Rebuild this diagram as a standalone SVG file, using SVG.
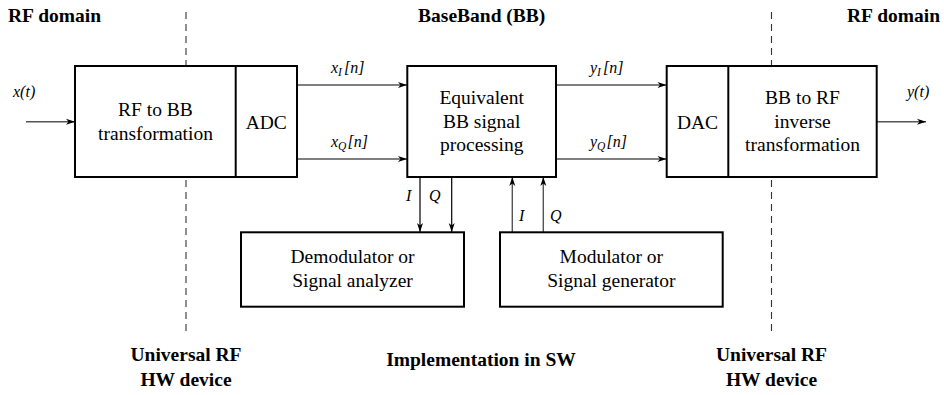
<svg xmlns="http://www.w3.org/2000/svg" width="944" height="395" viewBox="0 0 944 395">
<defs>
<marker id="ah" markerUnits="userSpaceOnUse" markerWidth="12" markerHeight="10" viewBox="-10 -5 12 10" refX="0" refY="0" orient="auto">
<path d="M0,0 L-9,-3 L-6.5,0 L-9,3 z" fill="#000"/>
</marker>
</defs>
<g id="dashes" stroke="#333" stroke-width="1.1" stroke-dasharray="7 5" fill="none">
<line x1="186" y1="12" x2="186" y2="332"/>
<line x1="771.5" y1="12" x2="771.5" y2="332"/>
</g>
<g id="connectors" stroke="#555" stroke-width="1.4" fill="none">
<line x1="26" y1="121.7" x2="75" y2="121.7" marker-end="url(#ah)"/>
<line x1="297" y1="85" x2="407" y2="85" marker-end="url(#ah)"/>
<line x1="297" y1="159" x2="407" y2="159" marker-end="url(#ah)"/>
<line x1="556" y1="85" x2="666.5" y2="85" marker-end="url(#ah)"/>
<line x1="556" y1="159" x2="666.5" y2="159" marker-end="url(#ah)"/>
<line x1="876.5" y1="121.7" x2="926" y2="121.7" marker-end="url(#ah)"/>
<line x1="420" y1="177" x2="420" y2="232" stroke="#000" stroke-width="1.2" marker-end="url(#ah)"/>
<line x1="451.7" y1="177" x2="451.7" y2="232" stroke="#000" stroke-width="1.2" marker-end="url(#ah)"/>
<line x1="512.3" y1="232" x2="512.3" y2="177" marker-end="url(#ah)"/>
<line x1="543.3" y1="232" x2="543.3" y2="177" marker-end="url(#ah)"/>
</g>
<g id="labels" fill="#000">
<text style="font-family:'Liberation Serif',serif !important;font-size:16px;font-style:italic" x="13" y="97">x(t)</text>
<text style="font-family:'Liberation Serif',serif !important;font-size:16px;font-style:italic" x="907" y="97">y(t)</text>
<text style="font-family:'Liberation Serif',serif !important;font-size:16px;font-style:italic" x="331" y="73">x<tspan font-size="11.5" dy="3">I</tspan><tspan dx="2" dy="-3">[n]</tspan></text>
<text style="font-family:'Liberation Serif',serif !important;font-size:16px;font-style:italic" x="331" y="147">x<tspan font-size="11.5" dy="3">Q</tspan><tspan dx="1" dy="-3">[n]</tspan></text>
<text style="font-family:'Liberation Serif',serif !important;font-size:16px;font-style:italic" x="590" y="73">y<tspan font-size="11.5" dy="3">I</tspan><tspan dx="2" dy="-3">[n]</tspan></text>
<text style="font-family:'Liberation Serif',serif !important;font-size:16px;font-style:italic" x="590" y="147">y<tspan font-size="11.5" dy="3">Q</tspan><tspan dx="1" dy="-3">[n]</tspan></text>
<text style="font-family:'Liberation Serif',serif !important;font-size:16px;font-style:italic" x="406" y="201">I</text>
<text style="font-family:'Liberation Serif',serif !important;font-size:16px;font-style:italic" x="429" y="201">Q</text>
<text style="font-family:'Liberation Serif',serif !important;font-size:16px;font-style:italic" x="519" y="221">I</text>
<text style="font-family:'Liberation Serif',serif !important;font-size:16px;font-style:italic" x="550" y="221">Q</text>
</g>
<g id="titles" fill="#000">
<text style="font-family:'Liberation Serif',serif !important;font-size:19.5px;font-weight:bold" x="8" y="22">RF domain</text>
<text style="font-family:'Liberation Serif',serif !important;font-size:19.5px;font-weight:bold" x="481.7" y="22" text-anchor="middle">BaseBand (BB)</text>
<text style="font-family:'Liberation Serif',serif !important;font-size:19.5px;font-weight:bold" x="940" y="22" text-anchor="end">RF domain</text>
<text style="font-family:'Liberation Serif',serif !important;font-size:19.5px;font-weight:bold" x="186" y="361" text-anchor="middle">Universal RF</text>
<text style="font-family:'Liberation Serif',serif !important;font-size:19.5px;font-weight:bold" x="186" y="386" text-anchor="middle">HW device</text>
<text style="font-family:'Liberation Serif',serif !important;font-size:19.5px;font-weight:bold" x="771.5" y="361" text-anchor="middle">Universal RF</text>
<text style="font-family:'Liberation Serif',serif !important;font-size:19.5px;font-weight:bold" x="771.5" y="386" text-anchor="middle">HW device</text>
<text style="font-family:'Liberation Serif',serif !important;font-size:19.5px;font-weight:bold" x="481" y="366" text-anchor="middle">Implementation in SW</text>
</g>
<g id="rf2bb" stroke="#000" stroke-width="2">
<rect x="75" y="66" width="222" height="111" fill="#fff"/>
<line x1="235.7" y1="66" x2="235.7" y2="177"/>
<text stroke="none" fill="#000" style="font-family:'Liberation Serif',serif !important;font-size:19.5px" text-anchor="middle" x="155.5" y="115.7">RF to BB</text>
<text stroke="none" fill="#000" style="font-family:'Liberation Serif',serif !important;font-size:19.5px" text-anchor="middle" x="155.5" y="140">transformation</text>
<text stroke="none" fill="#000" style="font-family:'Liberation Serif',serif !important;font-size:19.5px" text-anchor="middle" x="266.3" y="128.5">ADC</text>
</g>
<g id="eqproc" stroke="#000" stroke-width="2">
<rect x="407.3" y="66" width="148.7" height="111" fill="#fff"/>
<text stroke="none" fill="#000" style="font-family:'Liberation Serif',serif !important;font-size:19.5px" text-anchor="middle" x="481.7" y="104">Equivalent</text>
<text stroke="none" fill="#000" style="font-family:'Liberation Serif',serif !important;font-size:19.5px" text-anchor="middle" x="481.7" y="127.7">BB signal</text>
<text stroke="none" fill="#000" style="font-family:'Liberation Serif',serif !important;font-size:19.5px" text-anchor="middle" x="481.7" y="151">processing</text>
</g>
<g id="bb2rf" stroke="#000" stroke-width="2">
<rect x="666.7" y="66" width="210" height="111" fill="#fff"/>
<line x1="728.3" y1="66" x2="728.3" y2="177"/>
<text stroke="none" fill="#000" style="font-family:'Liberation Serif',serif !important;font-size:19.5px" text-anchor="middle" x="697.5" y="128.5">DAC</text>
<text stroke="none" fill="#000" style="font-family:'Liberation Serif',serif !important;font-size:19.5px" text-anchor="middle" x="802.5" y="104">BB to RF</text>
<text stroke="none" fill="#000" style="font-family:'Liberation Serif',serif !important;font-size:19.5px" text-anchor="middle" x="802.5" y="127.7">inverse</text>
<text stroke="none" fill="#000" style="font-family:'Liberation Serif',serif !important;font-size:19.5px" text-anchor="middle" x="802.5" y="151">transformation</text>
</g>
<g id="demod" stroke="#000" stroke-width="2">
<rect x="241" y="232.3" width="223" height="74.4" fill="#fff"/>
<text stroke="none" fill="#000" style="font-family:'Liberation Serif',serif !important;font-size:19.5px" text-anchor="middle" x="352.5" y="263">Demodulator or</text>
<text stroke="none" fill="#000" style="font-family:'Liberation Serif',serif !important;font-size:19.5px" text-anchor="middle" x="352.5" y="286.5">Signal analyzer</text>
</g>
<g id="mod" stroke="#000" stroke-width="2">
<rect x="500" y="232.3" width="222.7" height="74.4" fill="#fff"/>
<text stroke="none" fill="#000" style="font-family:'Liberation Serif',serif !important;font-size:19.5px" text-anchor="middle" x="611.3" y="263">Modulator or</text>
<text stroke="none" fill="#000" style="font-family:'Liberation Serif',serif !important;font-size:19.5px" text-anchor="middle" x="611.3" y="286.5">Signal generator</text>
</g>
</svg>
